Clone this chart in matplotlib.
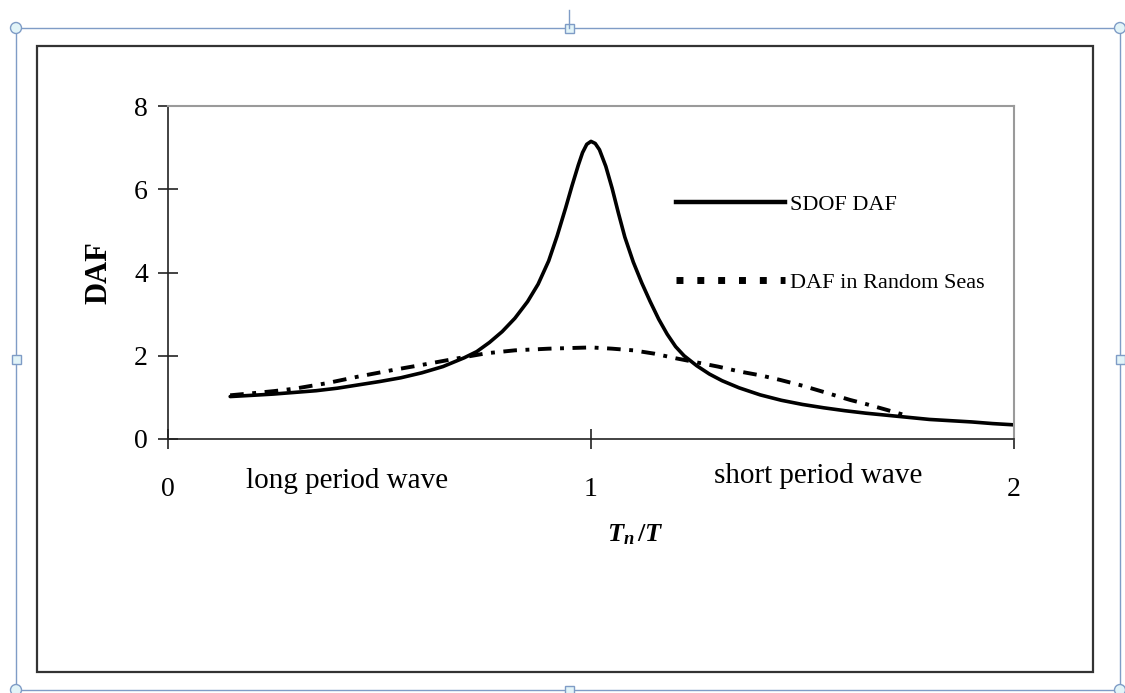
import matplotlib
matplotlib.use('Agg')
import matplotlib.pyplot as plt
from matplotlib.lines import Line2D
from matplotlib.patches import Rectangle, Circle

plt.rcParams['font.family'] = ['Liberation Serif', 'DejaVu Serif']
plt.rcParams['mathtext.fontset'] = 'custom'
plt.rcParams['mathtext.it'] = 'Liberation Serif:italic:bold'
plt.rcParams['mathtext.rm'] = 'Liberation Serif:bold'

# SDOF dynamic amplification factor
sdof_x = [0.147, 0.20, 0.25, 0.30, 0.35, 0.40, 0.45, 0.50, 0.55, 0.60, 0.65, 0.70,
          0.73, 0.76, 0.79, 0.82, 0.85, 0.875, 0.90, 0.92, 0.94, 0.955, 0.97,
          0.98, 0.99, 1.0, 1.01, 1.02, 1.035, 1.05, 1.065, 1.08, 1.10, 1.12,
          1.14, 1.16, 1.18, 1.20, 1.22, 1.25, 1.28, 1.31, 1.35, 1.40, 1.45,
          1.50, 1.55, 1.60, 1.65, 1.70, 1.75, 1.80, 1.85, 1.90, 1.95, 2.0]
sdof_y = [1.02, 1.05, 1.08, 1.12, 1.16, 1.22, 1.30, 1.38, 1.47, 1.59, 1.74, 1.95,
          2.10, 2.32, 2.58, 2.90, 3.30, 3.72, 4.28, 4.88, 5.55, 6.08, 6.58,
          6.88, 7.08, 7.15, 7.10, 6.95, 6.55, 6.02, 5.42, 4.85, 4.25, 3.75,
          3.30, 2.88, 2.52, 2.22, 2.00, 1.76, 1.56, 1.40, 1.23, 1.06, 0.93,
          0.83, 0.75, 0.68, 0.62, 0.57, 0.52, 0.47, 0.44, 0.41, 0.37, 0.34]

# DAF in random seas
rand_x = [0.147, 0.20, 0.25, 0.30, 0.375, 0.45, 0.533, 0.60, 0.68, 0.753, 0.82,
          0.90, 1.0, 1.05, 1.10, 1.15, 1.20, 1.25, 1.30, 1.352, 1.40, 1.447,
          1.50, 1.55, 1.612, 1.65, 1.699, 1.75]
rand_y = [1.05, 1.10, 1.15, 1.21, 1.34, 1.50, 1.66, 1.78, 1.93, 2.06, 2.13,
          2.17, 2.20, 2.17, 2.13, 2.05, 1.94, 1.84, 1.74, 1.62, 1.53, 1.42,
          1.28, 1.13, 0.94, 0.84, 0.70, 0.55]

x_ticks = [0, 1, 2]
y_ticks = [0, 2, 4, 6, 8]

fig = plt.figure(figsize=(11.25, 6.93), dpi=100)
W, H = 1125, 693

# selection border and handles of the embedded object
blue = '#7f9cc6'
fig.add_artist(Rectangle((16 / W, 1 - 690 / H), (1120 - 16) / W, (690 - 28) / H,
                         transform=fig.transFigure, fill=False, ec=blue, lw=1))
fig.add_artist(Line2D([569 / W, 569 / W], [1 - 10 / H, 1 - 28 / H],
                      transform=fig.transFigure, color=blue, lw=1))
for px, py in [(16, 28), (1120, 28), (16, 690), (1120, 690)]:
    fig.add_artist(Circle((px, H - py), 5.5, transform=None, fc='#e2f4f8', ec=blue, lw=1))
for px, py in [(569, 28), (569, 690), (16, 359), (1120, 359)]:
    fig.add_artist(Rectangle((px - 4.5, H - py - 4.5), 9, 9, transform=None,
                             fc='#e2f4f8', ec=blue, lw=1))

# chart area frame
fig.add_artist(Rectangle((37 / W, 1 - 672 / H), (1093 - 37) / W, (672 - 46) / H,
                         transform=fig.transFigure, fill=False, ec='#333333', lw=1.6))

ax = fig.add_axes([168 / W, 1 - 439 / H, (1014 - 168) / W, (439 - 106) / H])
ax.plot(sdof_x, sdof_y, color='black', lw=2.6, solid_capstyle='round',
        solid_joinstyle='round')
ax.plot(rand_x, rand_y, color='black', lw=2.8, linestyle=(0, (3.5, 2.2, 1, 2.2)))

ax.set_xlim(0, 2)
ax.set_ylim(0, 8)
ax.set_xticks(x_ticks)
ax.set_xticklabels([str(v) for v in x_ticks])
ax.set_yticks(y_ticks)
ax.tick_params(direction='inout', length=15, width=1.2, labelsize=20, color='#222222')
ax.tick_params(axis='x', pad=20)
ax.tick_params(axis='y', pad=7)

for s in ['left', 'bottom']:
    ax.spines[s].set_color('#222222')
    ax.spines[s].set_linewidth(1.2)
for s in ['top', 'right']:
    ax.spines[s].set_color('#9a9a9a')
    ax.spines[s].set_linewidth(1.5)

ax.set_ylabel('DAF', fontsize=22, fontweight='bold', labelpad=15)
ax.set_xlabel(r'$T_n\,/T$', fontsize=19)
ax.xaxis.set_label_coords(0.553, -0.25)

ax.text(0.423, -1.0, 'long period wave', fontsize=21, ha='center', va='center')
ax.text(1.537, -0.89, 'short period wave', fontsize=21, ha='center', va='center')

handles = [Line2D([], [], color='black', lw=3.2),
           Line2D([], [], color='black', lw=5, linestyle=(0, (1, 2)), dash_capstyle='butt')]
ax.legend(handles, ['SDOF DAF', 'DAF in Random Seas'], loc='center left',
          bbox_to_anchor=(0.6005, 0.587), frameon=False, fontsize=16,
          handlelength=4.9, handletextpad=0.25, labelspacing=2.6,
          borderpad=0, borderaxespad=0)

fig.savefig('out.png', dpi=100)
